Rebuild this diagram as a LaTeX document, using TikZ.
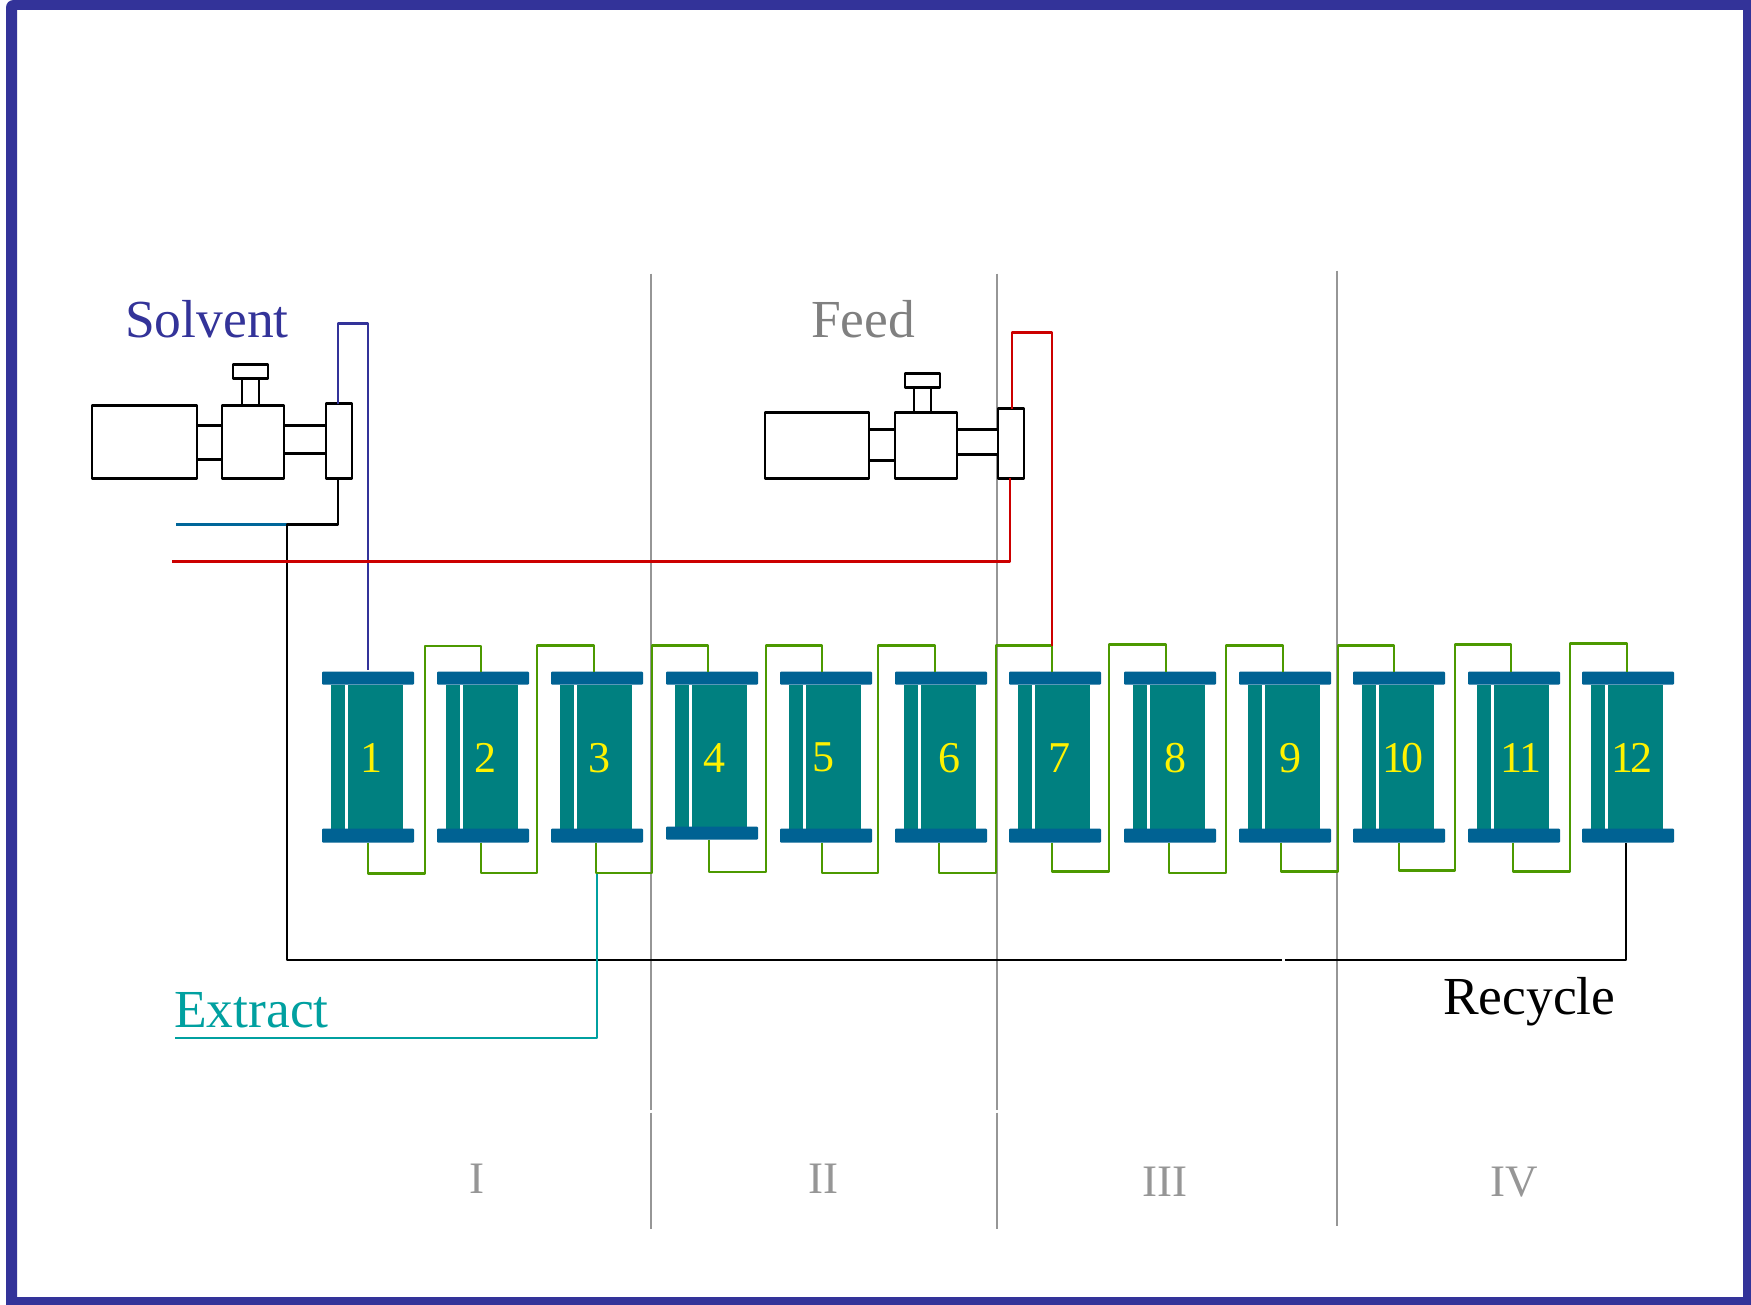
\documentclass[tikz,border=0pt]{standalone}
\usepackage{fontspec}
\setmainfont{Liberation Serif}
\definecolor{frameblue}{HTML}{333399}
\definecolor{colteal}{HTML}{008080}
\definecolor{flange}{HTML}{006293}
\definecolor{wire}{HTML}{4C9900}
\definecolor{zone}{HTML}{969696}
\definecolor{feedgray}{HTML}{808080}
\definecolor{redline}{HTML}{CC0000}
\definecolor{extract}{HTML}{00A0A0}
\definecolor{tealblue}{HTML}{006699}
\definecolor{digit}{HTML}{FFF200}
\newcommand{\column}[6]{% name, left x, label x, label, bottom flange top, bottom flange bottom
  \fill[colteal] (#2+9,684) rectangle (#2+23,#5);
  \fill[colteal] (#2+26,684) rectangle (#2+81,#5);
  \node[flangebox,minimum width=92,minimum height=13] (#1t) at (#2+46,677.5) {};
  \node[flangebox,minimum width=92,minimum height=#6-#5] (#1b) at (#2+46,{(#5+#6)/2}) {};
  \node[digitlabel] (#1l) at (#3,757) {#4};
}
\tikzset{
  flangebox/.style={fill=flange,rounded corners=1pt,inner sep=0pt,outer sep=0pt,draw=none},
  digitlabel/.style={text=digit,font=\fontsize{44}{44}\selectfont,inner sep=0pt},
  pumpline/.style={draw=black,line width=2.5pt,fill=white,line join=round},
  wireline/.style={draw=wire,line width=2.5pt,line join=round},
  zoneline/.style={draw=zone,line width=2.5pt},
  caption/.style={font=\fontsize{53.5}{53.5}\selectfont,inner sep=0pt,anchor=base west},
  roman/.style={font=\fontsize{45}{45}\selectfont,text=zone,inner sep=0pt,anchor=base},
}
\begin{document}
\begin{tikzpicture}[x=1pt,y=-1pt]
\useasboundingbox (0,0) rectangle (1751,1305);
\fill[white] (0,0) rectangle (1751,1305);
\fill[frameblue,even odd rule] (6,8) .. controls (6,3) and (9,0) .. (14,0) -- (1751,0) -- (1751,1305) -- (6,1305) -- cycle (17,10) rectangle (1743,1297);
\begin{scope}[shift={(0,0.7)}]
% zones
\draw[zoneline] (651,273) -- (651,1109);
\draw[zoneline] (651,1112) -- (651,1228);
\draw[zoneline] (997,273) -- (997,1109);
\draw[zoneline] (997,1112) -- (997,1228);
\draw[zoneline] (1337,270) -- (1337,1225);
% columns
\column{c1}{322}{371}{1}{828}{842}
\column{c2}{437}{485}{2}{828}{842}
\column{c3}{551}{599}{3}{828}{842}
\column{c4}{666}{714}{4}{826}{839}
\column{c5}{780}{823}{5}{828}{842}
\column{c6}{895}{949}{6}{828}{842}
\column{c7}{1009}{1059}{7}{828}{842}
\column{c8}{1124}{1175}{8}{828}{842}
\column{c9}{1239}{1290}{9}{828}{842}
\column{c10}{1353}{1403}{1\kern-3.5pt 0}{828}{842}
\column{c11}{1468}{1521}{1\kern-3.5pt 1}{828}{842}
\column{c12}{1582}{1632}{1\kern-3.5pt 2}{828}{842}
% green wiring
\draw[wireline] (368,842) |- (425,873) |- (481,645.5) -- (481,671);
\draw[wireline] (481,842) |- (537,872.5) |- (594,645) -- (594,671);
\draw[wireline] (596,842) |- (652,872.5) |- (708,645) -- (708,671);
\draw[wireline] (709,839) |- (766,871.5) |- (822,645) -- (822,671);
\draw[wireline] (822,842) |- (878,872.5) |- (935,645) -- (935,671);
\draw[wireline] (939,842) |- (996,872.5) |- (1052,645) -- (1052,671);
\draw[wireline] (1052,842) |- (1109,871) |- (1166,644) -- (1166,671);
\draw[wireline] (1169,842) |- (1226,872.5) |- (1283,645) -- (1283,671);
\draw[wireline] (1281,842) |- (1338,871) |- (1394,645) -- (1394,671);
\draw[wireline] (1399,842) |- (1455,870) |- (1511,644) -- (1511,671);
\draw[wireline] (1513,842) |- (1570,871) |- (1627,643) -- (1627,671);
% pumps
\node[pumpline,minimum width=105,minimum height=73,inner sep=0pt] (sm) at (144.5,441.5) {};
\draw[pumpline] (197,425) rectangle (222,459);
\draw[pumpline] (284,425) rectangle (326,453);
\draw[pumpline] (242,378) rectangle (259,405);
\draw[pumpline] (233,364) rectangle (268,378);
\node[pumpline,minimum width=62,minimum height=73,inner sep=0pt] (sb) at (253,441.5) {};
\node[pumpline,minimum width=26,minimum height=75,inner sep=0pt] (sh) at (339,440.5) {};
\node[pumpline,minimum width=104,minimum height=66,inner sep=0pt] (fm) at (817,445) {};
\draw[pumpline] (869,429) rectangle (895,460);
\draw[pumpline] (957,429) rectangle (998,454);
\draw[pumpline] (914,387) rectangle (931,412);
\draw[pumpline] (905,373) rectangle (940,387);
\node[pumpline,minimum width=62,minimum height=66,inner sep=0pt] (fb) at (926,445) {};
\node[pumpline,minimum width=26,minimum height=70,inner sep=0pt] (fh) at (1011,443) {};
% feeds
\coordinate (tealstart) at (176,524);
\coordinate (redstart) at (172,561);
\coordinate (exend) at (175,1037.5);
\draw[tealblue,line width=2.5pt] (tealstart) -- (287,524);
\draw[black,line width=2.5pt,line join=round] (338,477) |- (287,524) -- (287,959.5) -- (1282,959.5);
\draw[black,line width=2.5pt,line join=round] (1285,959.5) -- (1626,959.5) -- (1626,842);
\draw[frameblue,line width=2.5pt,line join=round] (338,403) |- (368,323) -- (368,669);
\draw[redline,line width=2.5pt,line join=round] (redstart) -| (1010,477);
\draw[redline,line width=2.5pt,line join=round] (1012,408) |- (1052,332) -- (1052,645);
\draw[extract,line width=2.5pt,line join=round] (597,873) |- (exend);
% text
\node[caption,text=frameblue] (solvent) at (125,336.5) {Solvent};
\node[caption,text=feedgray] (feed) at (811,336.5) {Feed};
\node[caption,text=extract] (extr) at (174,1027) {Extract};
\node[caption,text=black] (rec) at (1443,1013.5) {Recycle};
\node[roman] (z1) at (476.5,1193) {I};
\node[roman] (z2) at (823.5,1193) {II};
\node[roman] (z3) at (1164.5,1196) {III};
\node[roman] (z4) at (1514.5,1196) {IV};
\end{scope}
\end{tikzpicture}
\end{document}
